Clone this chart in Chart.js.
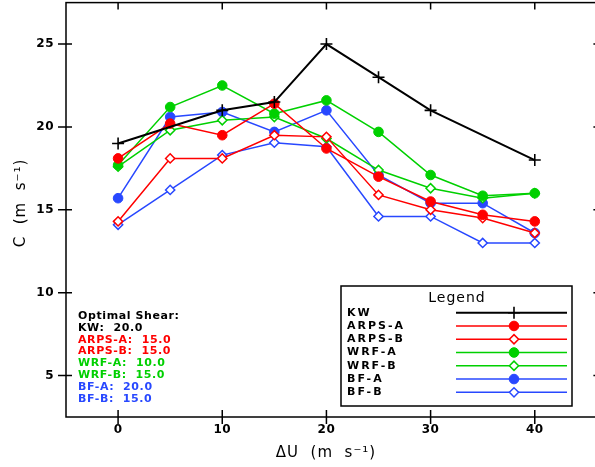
<!DOCTYPE html>
<html>
<head>
<meta charset="utf-8">
<script src="https://cdn.jsdelivr.net/npm/chart.js@4"></script>
<style>
  html, body { margin: 0; padding: 0; background: #fff; overflow: hidden; }
  #wrap { width: 595px; height: 467px; overflow: hidden; position: relative; }
  #myChart { position: absolute; left: 0; top: -5px; }
</style>
</head>
<body>
<div id="wrap"><canvas id="myChart" width="608" height="472"></canvas></div>
<script>
// shear values (x) and phase speeds (y)
const shear = [0, 5, 10, 15, 20, 25, 30, 35, 40];
const shearKW = [0, 10, 15, 20, 25, 30, 40];
const speedKW = [19.0, 21.0, 21.5, 25.0, 23.0, 21.0, 18.0];
const arpsA = [18.1, 20.2, 19.5, 21.4, 18.7, 17.0, 15.5, 14.7, 14.3];
const arpsB = [14.3, 18.1, 18.1, 19.5, 19.4, 15.9, 15.0, 14.5, 13.6];
const wrfA  = [17.7, 21.2, 22.5, 20.8, 21.6, 19.7, 17.1, 15.85, 16.0];
const wrfB  = [17.6, 19.8, 20.4, 20.6, 19.3, 17.4, 16.3, 15.7, 16.0];
const bfA   = [15.7, 20.6, 20.9, 19.7, 21.0, 17.1, 15.4, 15.4, 13.6];
const bfB   = [14.1, 16.2, 18.3, 19.05, 18.8, 14.6, 14.6, 13.0, 13.0];

const xTicks = [0, 10, 20, 30, 40];
const yTicks = [5, 10, 15, 20, 25];

const seriesNames = ['KW', 'ARPS-A', 'ARPS-B', 'WRF-A', 'WRF-B', 'BF-A', 'BF-B'];
const optimalShear = ['20.0', '15.0', '15.0', '10.0', '15.0', '20.0', '15.0'];

const RED = '#ff0000', GREEN = '#00d000', BLUE = '#2848ff';
const OY = 5; // canvas is shifted up by this much

function pts(xs, ys) {
    return xs.map((x, i) => ({ x: x, y: ys[i] }));
}

function filled(label, color, ys) {
    return {
        label: label, data: pts(shear, ys), borderColor: color, backgroundColor: color,
        borderWidth: 1.5, pointStyle: 'circle', pointRadius: 4.8, pointBorderWidth: 1,
        pointBackgroundColor: color, pointBorderColor: color
    };
}
function hollow(label, color, ys) {
    return {
        label: label, data: pts(shear, ys), borderColor: color, backgroundColor: '#fff',
        borderWidth: 1.5, pointStyle: 'rectRot', pointRadius: 4.6, pointBorderWidth: 1.5,
        pointBackgroundColor: '#fff', pointBorderColor: color
    };
}

const datasets = [
    {
        label: 'KW', data: pts(shearKW, speedKW), borderColor: '#000', backgroundColor: '#000',
        borderWidth: 2, pointStyle: 'cross', pointRadius: 6, pointBorderWidth: 1.6,
        pointBorderColor: '#000'
    },
    filled('ARPS-A', RED, arpsA),
    hollow('ARPS-B', RED, arpsB),
    filled('WRF-A', GREEN, wrfA),
    hollow('WRF-B', GREEN, wrfB),
    filled('BF-A', BLUE, bfA),
    hollow('BF-B', BLUE, bfB)
];

// frame, tick marks + labels, axis titles, legend and annotation
const decorPlugin = {
    id: 'decor',
    afterDatasetsDraw(chart) {
        const ctx = chart.ctx;
        const a = chart.chartArea;
        const xs = chart.scales.x, ys = chart.scales.y;
        ctx.save();
        ctx.strokeStyle = '#000';
        ctx.lineWidth = 1.5;
        ctx.strokeRect(a.left, a.top, a.right - a.left, a.bottom - a.top);

        ctx.beginPath();
        xTicks.forEach(v => {
            const px = xs.getPixelForValue(v);
            ctx.moveTo(px, a.bottom - 7); ctx.lineTo(px, a.bottom + 7);
            ctx.moveTo(px, a.top); ctx.lineTo(px, a.top + 7);
        });
        yTicks.forEach(v => {
            const py = ys.getPixelForValue(v);
            ctx.moveTo(a.left - 8, py); ctx.lineTo(a.left + 6, py);
            ctx.moveTo(a.right - 7, py); ctx.lineTo(a.right, py);
        });
        ctx.stroke();

        // tick labels
        ctx.fillStyle = '#000';
        ctx.font = 'bold 12px "DejaVu Sans"';
        ctx.letterSpacing = '0.5px';
        ctx.textBaseline = 'middle';
        ctx.textAlign = 'center';
        xTicks.forEach(v => ctx.fillText(String(v), xs.getPixelForValue(v), a.bottom + 13));
        ctx.textAlign = 'right';
        yTicks.forEach(v => ctx.fillText(String(v), 54, ys.getPixelForValue(v)));

        // everything below is placed in page coordinates
        ctx.translate(0, OY);

        // axis titles
        ctx.font = '15px "DejaVu Sans"';
        ctx.textAlign = 'center';
        ctx.letterSpacing = '1px';
        ctx.fillText('\u0394U  (m  s\u207B\u00B9)', 326, 453);
        ctx.save();
        ctx.translate(21, 203);
        ctx.rotate(-Math.PI / 2);
        ctx.fillText('C  (m  s\u207B\u00B9)', 0, 0);
        ctx.restore();

        // optimal shear annotation
        ctx.textAlign = 'left';
        ctx.font = 'bold 11px "DejaVu Sans"';
        ctx.letterSpacing = '0.6px';
        ctx.fillStyle = '#000';
        ctx.fillText('Optimal Shear:', 78, 316.5);
        seriesNames.forEach((name, i) => {
            ctx.fillStyle = datasets[i].borderColor;
            ctx.fillText(name + ':  ' + optimalShear[i], 78, 328 + i * 11.8);
        });

        // legend box
        const bx = 341, by = 286, bw = 231, bh = 120;
        ctx.fillStyle = '#fff';
        ctx.fillRect(bx, by, bw, bh);
        ctx.lineWidth = 1.5;
        ctx.strokeStyle = '#000';
        ctx.strokeRect(bx, by, bw, bh);
        ctx.fillStyle = '#000';
        ctx.font = '14px "DejaVu Sans"';
        ctx.letterSpacing = '1px';
        ctx.textAlign = 'center';
        ctx.fillText('Legend', 457, 298);
        ctx.textAlign = 'left';
        ctx.font = 'bold 11px "DejaVu Sans"';
        ctx.letterSpacing = '2px';
        datasets.forEach((ds, i) => {
            const y = 312.7 + i * 13.27;
            ctx.fillStyle = '#000';
            ctx.fillText(ds.label, 347, y);
            ctx.strokeStyle = ds.borderColor;
            ctx.lineWidth = ds.borderWidth;
            ctx.beginPath();
            ctx.moveTo(456, y); ctx.lineTo(567, y);
            ctx.stroke();
            ctx.fillStyle = ds.pointBackgroundColor || ds.borderColor;
            ctx.strokeStyle = ds.pointBorderColor;
            ctx.lineWidth = ds.pointBorderWidth;
            Chart.helpers.drawPoint(ctx, {
                pointStyle: ds.pointStyle, radius: ds.pointRadius, rotation: 0,
                borderWidth: ds.pointBorderWidth
            }, 514, y);
        });
        ctx.restore();
    }
};

new Chart(document.getElementById('myChart'), {
    type: 'line',
    data: { datasets: datasets },
    options: {
        responsive: false,
        animation: false,
        layout: { padding: 0 },
        plugins: { legend: { display: false }, tooltip: { enabled: false } },
        elements: { line: { tension: 0 } },
        scales: {
            x: {
                type: 'linear', min: -5, max: 46.3,
                grid: { display: false }, border: { display: false },
                afterBuildTicks: s => { s.ticks = xTicks.map(v => ({ value: v })); },
                afterFit: s => { s.height = 50; },
                ticks: { display: false }
            },
            y: {
                type: 'linear', min: 2.5, max: 27.5,
                grid: { display: false }, border: { display: false },
                afterBuildTicks: s => { s.ticks = yTicks.map(v => ({ value: v })); },
                afterFit: s => { s.width = 66; },
                ticks: { display: false }
            }
        }
    },
    plugins: [decorPlugin]
});
</script>
</body>
</html>
